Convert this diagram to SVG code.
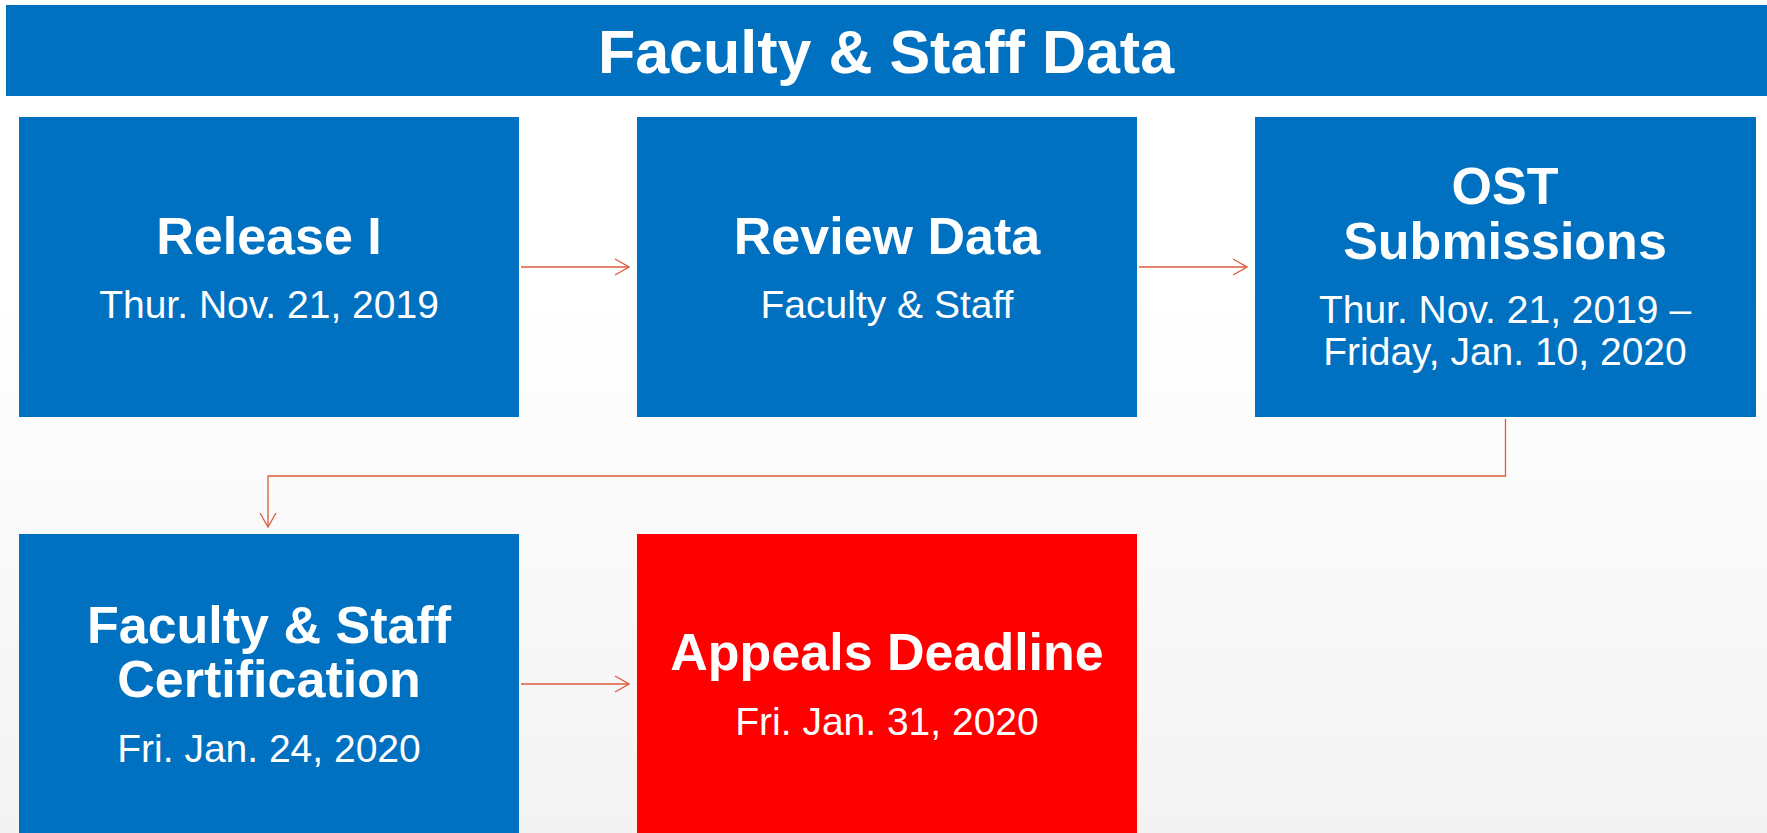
<svg xmlns="http://www.w3.org/2000/svg" width="1767" height="833" viewBox="0 0 1767 833">
<defs>
<linearGradient id="bg" x1="0" y1="0" x2="0" y2="1">
<stop offset="0" stop-color="#ffffff"/>
<stop offset="0.35" stop-color="#ffffff"/>
<stop offset="1" stop-color="#f3f3f3"/>
</linearGradient>
<marker id="arr" viewBox="0 0 16 18" refX="15" refY="9" markerWidth="16" markerHeight="18" markerUnits="userSpaceOnUse" orient="auto">
<path d="M1,1 L15,9 L1,17" fill="none" stroke="#DD5B3E" stroke-width="1.3"/>
</marker>
<style>
.blue{fill:#0070C0}
.red{fill:#FF0000}
.t{font-family:"Liberation Sans",Arial,sans-serif;fill:#ffffff;text-anchor:middle}
.h{font-weight:bold;font-size:52px}
.d{font-size:39px}
.conn{fill:none;stroke:#DD5B3E;stroke-width:1.3}
</style>
</defs>
<rect x="0" y="0" width="1767" height="833" fill="url(#bg)"/>
<g id="title">
<rect class="blue" x="6" y="5" width="1761" height="91"/>
<text class="t" x="886" y="73" font-size="61" font-weight="bold">Faculty &amp; Staff Data</text>
</g>
<g id="release">
<rect class="blue" x="19" y="117" width="500" height="300"/>
<text class="t h" x="269" y="254">Release I</text>
<text class="t d" x="269" y="318">Thur. Nov. 21, 2019</text>
</g>
<g id="review">
<rect class="blue" x="637" y="117" width="500" height="300"/>
<text class="t h" x="887" y="254">Review Data</text>
<text class="t d" x="887" y="318">Faculty &amp; Staff</text>
</g>
<g id="ost">
<rect class="blue" x="1255" y="117" width="501" height="300"/>
<text class="t h" x="1505" y="204">OST</text>
<text class="t h" x="1505" y="259">Submissions</text>
<text class="t d" x="1505" y="323">Thur. Nov. 21, 2019 –</text>
<text class="t d" x="1505" y="365">Friday, Jan. 10, 2020</text>
</g>
<g id="certification">
<rect class="blue" x="19" y="534" width="500" height="300"/>
<text class="t h" x="269" y="643">Faculty &amp; Staff</text>
<text class="t h" x="269" y="697">Certification</text>
<text class="t d" x="269" y="762">Fri. Jan. 24, 2020</text>
</g>
<g id="appeals">
<rect class="red" x="637" y="534" width="500" height="300"/>
<text class="t h" x="887" y="670">Appeals Deadline</text>
<text class="t d" x="887" y="735">Fri. Jan. 31, 2020</text>
</g>
<g id="connectors">
<path class="conn" d="M521,267 L629,267" marker-end="url(#arr)"/>
<path class="conn" d="M1139,267 L1247,267" marker-end="url(#arr)"/>
<path class="conn" d="M1505.5,419 L1505.5,476 L268,476 L268,527" marker-end="url(#arr)"/>
<path class="conn" d="M521,684 L629,684" marker-end="url(#arr)"/>
</g>
</svg>
